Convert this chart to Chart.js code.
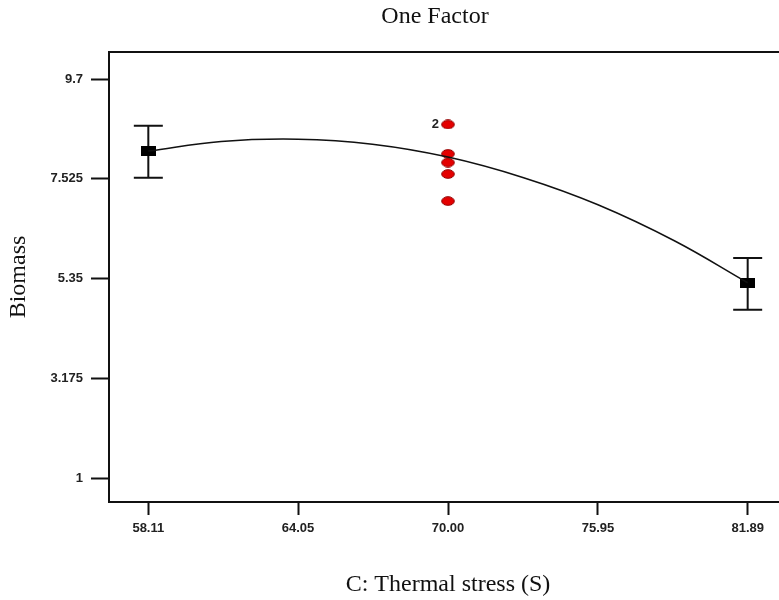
<!DOCTYPE html>
<html>
<head>
<meta charset="utf-8">
<script src="https://cdn.jsdelivr.net/npm/chart.js@4.4.1/dist/chart.umd.min.js"></script>
<style>
  html, body { margin: 0; padding: 0; background: #fff; overflow: hidden; }
  #wrap { width: 870px; height: 600px; position: relative; }
</style>
</head>
<body>
<div id="wrap"><canvas id="chartCanvas"></canvas></div>
<script>
// axis ticks
const xTicks = [58.11, 64.05, 70.00, 75.95, 81.89];
const yTicks = [1, 3.175, 5.35, 7.525, 9.7];
const yTickLabels = ['1', '3.175', '5.35', '7.525', '9.7'];

// model curve
const curveX = [58.11, 61.0, 64.05, 67.0, 70.0, 73.0, 75.95, 79.0, 81.89];
const curveY = [8.13, 8.34, 8.39, 8.28, 8.0, 7.55, 6.96, 6.17, 5.26];

// factor ends (black squares) with their error bars
const factorX = [58.11, 81.89];
const factorY = [8.13, 5.26];
const factorLow = [7.55, 4.67];
const factorHigh = [8.68, 5.80];

// design points (red), with replicate counts
const designX = [70, 70, 70, 70, 70];
const designY = [8.71, 8.07, 7.88, 7.63, 7.04];
const designCount = [2, 1, 1, 1, 1];

const serif = 'Liberation Serif, Times New Roman, serif';
const sans = 'Liberation Sans, Arial, sans-serif';

function makeRect(w, h, color) {
    const c = document.createElement('canvas');
    c.width = w; c.height = h;
    const g = c.getContext('2d');
    g.fillStyle = color;
    g.fillRect(0, 0, w, h);
    return c;
}

function makeEllipse(w, h) {
    const c = document.createElement('canvas');
    c.width = w; c.height = h;
    const g = c.getContext('2d');
    g.beginPath();
    g.ellipse(w / 2, h / 2, w / 2 - 0.7, h / 2 - 0.7, 0, 0, Math.PI * 2);
    g.fillStyle = '#e40000';
    g.fill();
    g.lineWidth = 1;
    g.strokeStyle = '#900000';
    g.stroke();
    return c;
}

// error bars drawn through the scales
const errorBars = {
    id: 'errorBars',
    beforeDatasetsDraw(chart) {
        const ctx = chart.ctx;
        const xs = chart.scales.x, ys = chart.scales.y;
        ctx.save();
        ctx.strokeStyle = '#111';
        ctx.lineWidth = 2;
        factorX.forEach((xv, i) => {
            const px = xs.getPixelForValue(xv);
            const top = ys.getPixelForValue(factorHigh[i]);
            const bot = ys.getPixelForValue(factorLow[i]);
            ctx.beginPath();
            ctx.moveTo(px, top); ctx.lineTo(px, bot);
            ctx.moveTo(px - 14.5, top); ctx.lineTo(px + 14.5, top);
            ctx.moveTo(px - 14.5, bot); ctx.lineTo(px + 14.5, bot);
            ctx.stroke();
        });
        ctx.restore();
    }
};

// top and right frame lines
const frame = {
    id: 'frame',
    afterDraw(chart) {
        const {ctx, chartArea: a} = chart;
        ctx.save();
        ctx.strokeStyle = '#111';
        ctx.lineWidth = 2;
        ctx.beginPath();
        ctx.moveTo(a.left, a.top); ctx.lineTo(a.right, a.top); ctx.lineTo(a.right, a.bottom);
        ctx.stroke();
        ctx.restore();
    }
};

// replicate count next to the design points
const countLabels = {
    id: 'countLabels',
    afterDatasetsDraw(chart) {
        const ctx = chart.ctx;
        const xs = chart.scales.x, ys = chart.scales.y;
        ctx.save();
        ctx.font = 'bold 13px ' + sans;
        ctx.fillStyle = '#222';
        ctx.textAlign = 'right';
        ctx.textBaseline = 'middle';
        designX.forEach((xv, i) => {
            if (designCount[i] > 1) {
                ctx.fillText(String(designCount[i]), xs.getPixelForValue(xv) - 9, ys.getPixelForValue(designY[i]));
            }
        });
        ctx.restore();
    }
};

const ctx = document.getElementById('chartCanvas');

new Chart(ctx, {
    type: 'scatter',
    data: {
        datasets: [
            {
                type: 'line',
                data: curveX.map((x, i) => ({x: x, y: curveY[i]})),
                borderColor: '#111',
                borderWidth: 1.5,
                pointRadius: 0,
                tension: 0.4,
                fill: false,
                order: 0
            },
            {
                data: factorX.map((x, i) => ({x: x, y: factorY[i]})),
                pointStyle: makeRect(15, 10, '#000'),
                pointRadius: 5,
                order: 1
            },
            {
                data: designX.map((x, i) => ({x: x, y: designY[i]})),
                pointStyle: makeEllipse(14, 10),
                pointRadius: 5,
                order: 2
            }
        ]
    },
    options: {
        responsive: true,
        maintainAspectRatio: false,
        animation: false,
        layout: { padding: 0 },
        plugins: {
            legend: { display: false },
            tooltip: { enabled: false },
            title: {
                display: true,
                text: 'One Factor',
                color: '#111',
                font: { family: serif, size: 24, weight: 'normal' },
                padding: { top: 2, bottom: 21.2 }
            }
        },
        scales: {
            x: {
                type: 'linear',
                min: 56.55,
                max: 83.45,
                afterBuildTicks: s => { s.ticks = xTicks.map(v => ({value: v})); },
                afterFit: s => { s.height = 98; },
                ticks: {
                    callback: v => Number(v).toFixed(2),
                    font: { family: sans, size: 13, weight: 'bold' },
                    color: '#222',
                    padding: 6,
                    maxRotation: 0,
                    autoSkip: false
                },
                grid: { display: true, drawOnChartArea: false, drawTicks: true, tickLength: 13, tickWidth: 2, tickColor: '#111', color: '#111' },
                border: { display: true, color: '#111', width: 2 },
                title: {
                    display: true,
                    text: 'C: Thermal stress (S)',
                    color: '#111',
                    font: { family: serif, size: 24, weight: 'normal' },
                    padding: { top: 0, bottom: 1 }
                }
            },
            y: {
                type: 'linear',
                min: 0.48,
                max: 10.29,
                afterBuildTicks: s => { s.ticks = yTicks.map(v => ({value: v})); },
                afterFit: s => { s.width = 109; },
                ticks: {
                    callback: (v, i) => yTickLabels[i],
                    font: { family: sans, size: 13, weight: 'bold' },
                    color: '#222',
                    padding: 8,
                    autoSkip: false
                },
                grid: { display: true, drawOnChartArea: false, drawTicks: true, tickLength: 18, tickWidth: 2, tickColor: '#111', color: '#111' },
                border: { display: true, color: '#111', width: 2 },
                title: {
                    display: true,
                    text: 'Biomass',
                    color: '#111',
                    font: { family: serif, size: 24, weight: 'normal' },
                    padding: { top: 4.6, bottom: 0 }
                }
            },
            // empty right-hand strip, the plot runs past the picture's edge
            yRight: {
                type: 'linear',
                position: 'right',
                display: true,
                afterFit: s => { s.width = 83; },
                ticks: { display: false },
                grid: { display: false },
                border: { display: false }
            }
        }
    },
    plugins: [errorBars, frame, countLabels]
});
</script>
</body>
</html>
